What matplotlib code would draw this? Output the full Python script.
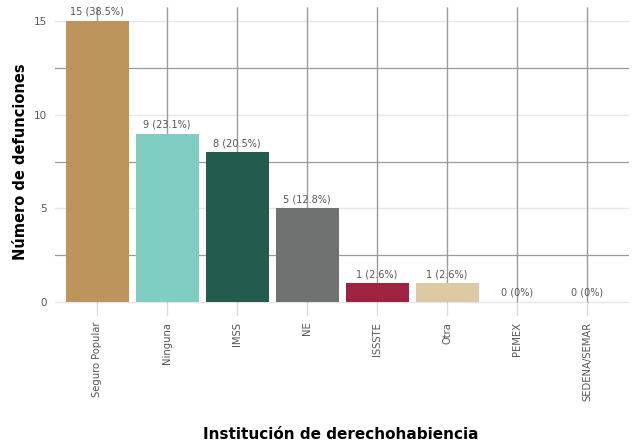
import matplotlib
matplotlib.use("Agg")
import matplotlib.pyplot as plt
import numpy as np

# data
instituciones = ["Seguro Popular", "Ninguna", "IMSS", "NE", "ISSSTE", "Otra", "PEMEX", "SEDENA/SEMAR"]
defunciones = [15, 9, 8, 5, 1, 1, 0, 0]
colores = ["#BC955C", "#80CEC1", "#235B4E", "#6F7271", "#9F2241", "#DDC9A3", "#BC955C", "#BC955C"]

total = sum(defunciones)
etiquetas = []
for v in defunciones:
	p = 100.0 * v / total
	if v == 0:
		etiquetas.append("%d (0%%)" % v)
	else:
		etiquetas.append("%d (%.1f%%)" % (v, p))

plt.rcParams['font.family'] = ['DejaVu Sans']
fig = plt.figure(figsize=(6.36, 4.44), dpi=100)
ax = fig.add_axes([0.0865, 0.288, 0.9025, 0.696])

xpos = np.arange(1, len(instituciones) + 1)
ax.bar(xpos, defunciones, width=0.9, color=colores, zorder=3)
for x, v, t in zip(xpos, defunciones, etiquetas):
	ax.annotate(t, (x, v), xytext=(0, 3), textcoords="offset points",
		ha="center", va="bottom", fontsize=7, color="#555555", zorder=4)

ax.set_xlim(0.4, len(instituciones) + 0.6)
ax.set_ylim(-0.75, 15.75)

#grid
ax.set_yticks([0, 5, 10, 15])
ax.set_yticks([2.5, 7.5, 12.5], minor=True)
ax.grid(axis="y", which="major", color="#e6e6e6", linewidth=1.0)
ax.grid(axis="y", which="minor", color="#9a9a9a", linewidth=0.9)
ax.set_xticks(xpos)
ax.grid(axis="x", which="major", color="#dcdcdc", linewidth=1.0)
ax.vlines(xpos, 0, 15.75, color="#9a9a9a", linewidth=0.9, zorder=2)

ax.set_xticklabels(instituciones, rotation=90, fontsize=7.2, color="#555555")
ax.tick_params(axis="y", labelsize=7.5, labelcolor="#555555")
ax.tick_params(axis="both", which="both", length=0)
ax.tick_params(axis="x", pad=4)
ax.tick_params(axis="y", pad=6)
for s in ax.spines.values():
	s.set_visible(False)

ax.set_ylabel("Número de defunciones", fontsize=10.5, fontweight="bold", labelpad=4)
fig.text(0.535, 0.004, "Institución de derechohabiencia", fontsize=11, fontweight="bold", ha="center", va="bottom")

plt.savefig("out.png", dpi=100)
